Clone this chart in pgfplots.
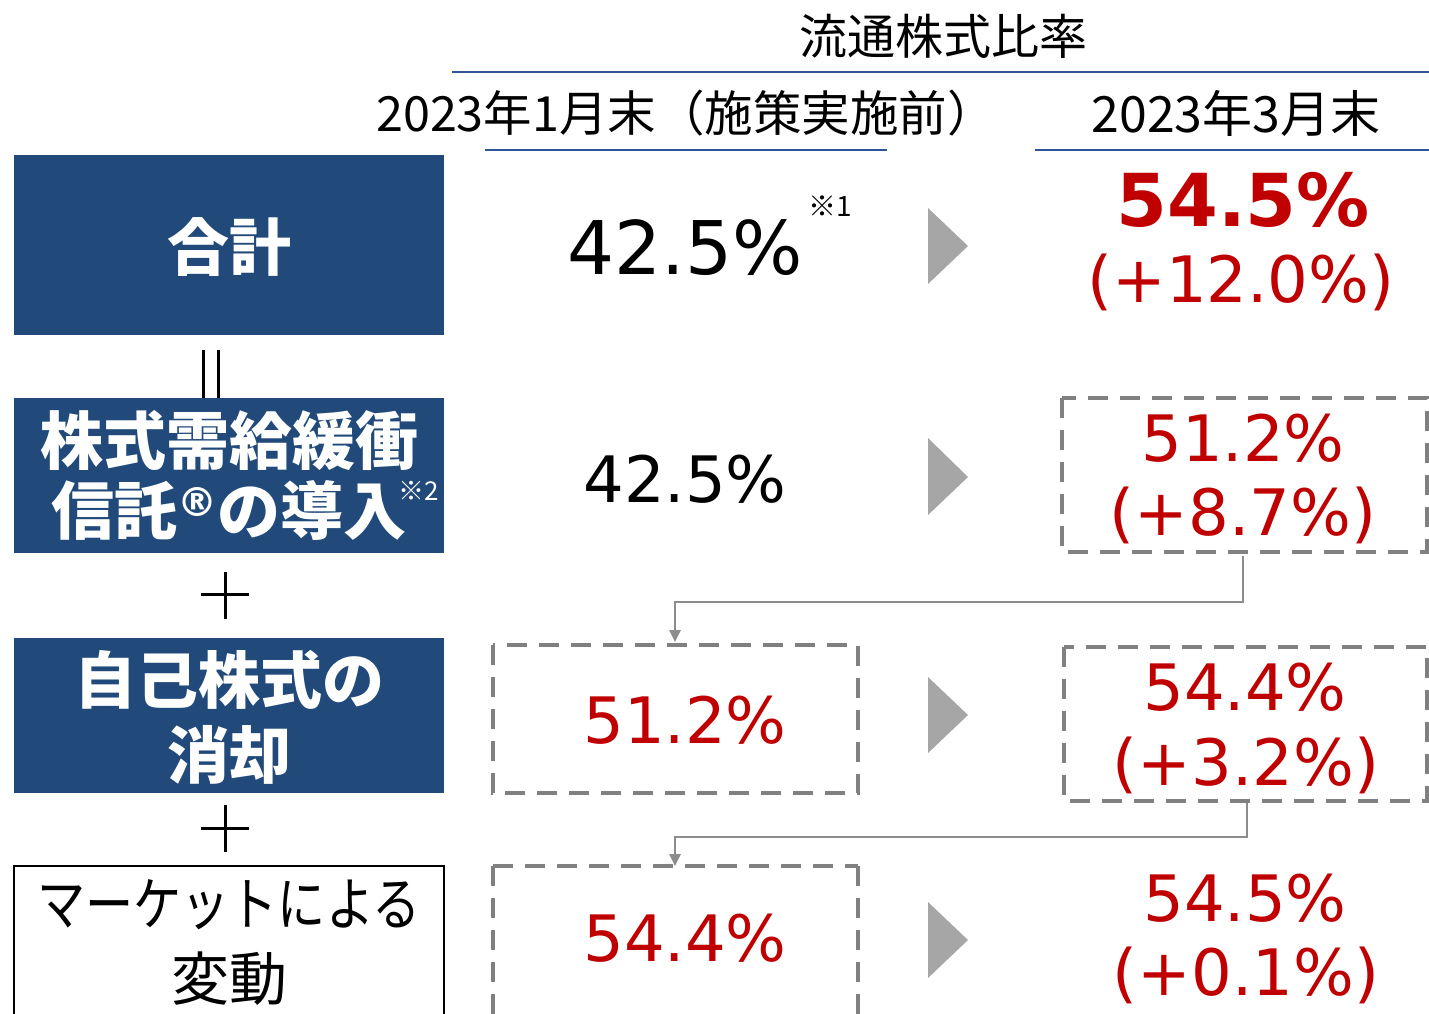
\documentclass[border=0pt]{standalone}
\usepackage{fontspec}
\setmainfont{Noto Sans CJK JP}
\newfontfamily\numfont{DejaVu Sans}
\usepackage{pgfplots}
\pgfplotsset{compat=1.18}
\usetikzlibrary{arrows.meta}

\definecolor{boxblue}{RGB}{33,74,123}
\definecolor{lineblue}{RGB}{47,85,151}
\definecolor{redtxt}{RGB}{192,0,0}
\definecolor{dashgray}{RGB}{128,128,128}
\definecolor{arrowgray}{RGB}{166,166,166}
\definecolor{connector}{RGB}{140,140,140}

% positions in pixels of the reference, y counted downwards
\pgfplotstableread{
x    y    v
685  248  42.5
}\totalbefore
\pgfplotstableread{
x    y    v
685  479  42.5
}\before
\pgfplotstableread{
x    y    v
1243 438  51.2
685  720  51.2
1245 687  54.4
685  938  54.4
1245 898  54.5
}\redvals
\pgfplotstableread{
x    y    v
1243 200  54.5
}\total
\pgfplotstableread{
x    y    v
1241 282  12.0
1243 515  8.7
1246 765  3.2
1246 975  0.1
}\changes

\begin{document}
\begin{tikzpicture}
\begin{axis}[
    width=1429pt, height=1013pt, scale only axis,
    xmin=0, xmax=1429, ymin=0, ymax=1013, y dir=reverse,
    hide axis, clip=false,
    /pgf/number format/assume math mode=true,
    every node near coord/.append style={anchor=center, inner sep=0pt},
]
% header
\node[font=\fontsize{48}{50}\selectfont] at (943,36) {流通株式比率};
\draw[lineblue, line width=2.5pt] (452,72) -- (1429,72);
\node[font=\fontsize{48.5}{50}\selectfont] at (686,113) {2023年1月末（施策実施前）};
\node[font=\fontsize{50}{50}\selectfont] at (1236,113) {2023年3月末};
\draw[lineblue, line width=2.5pt] (485,150) -- (887,150);
\draw[lineblue, line width=2.5pt] (1035,150) -- (1429,150);

% left column boxes
\fill[boxblue] (14,155) rectangle (444,335);
\node[text=white, font=\bfseries\fontsize{62}{64}\selectfont] at (229,247) {合計};
\draw[line width=3pt] (203,350) -- (203,398);
\draw[line width=3pt] (218,350) -- (218,398);
\fill[boxblue] (14,398) rectangle (444,553);
\node[text=white, align=center, font=\bfseries\fontsize{63}{70}\selectfont] at (229,475)
  {株式需給緩衝\\信託{\numfont\fontsize{40}{40}\selectfont\raisebox{18pt}{®}}の導入%
   \makebox[0pt][l]{\hspace{-8pt}\raisebox{34pt}{\mdseries\fontsize{26}{26}\selectfont ※2}}};
\draw[line width=3pt] (225,572) -- (225,619);
\draw[line width=3pt] (201,594) -- (249,594);
\fill[boxblue] (14,638) rectangle (444,793);
\node[text=white, align=center, font=\bfseries\fontsize{62}{75}\selectfont] at (229,717)
  {自己株式の\\消却};
\draw[line width=3pt] (225,805) -- (225,852);
\draw[line width=3pt] (201,828) -- (249,828);
\draw[line width=2pt, fill=white] (14,866) rectangle (444,1040);
\node[align=center, font=\fontsize{58}{75}\selectfont] at (229,942)
  {\scalebox{0.83}[1]{マーケットによる}\\変動};

% footnote mark
\node[font=\fontsize{28}{28}\selectfont] at (830,206) {※1};

% dashed boxes
\begin{scope}[dashgray, line width=4.5pt, dash pattern=on 20pt off 12pt]
\draw (1062,398) rectangle (1427,552);
\draw (493,645) rectangle (858,793);
\draw (1064,647) rectangle (1427,801);
\draw (493,866) -- (858,866);
\draw (493,866) -- (493,1030);
\draw (858,866) -- (858,1030);
\end{scope}

% connectors
\draw[connector, line width=2.5pt, -{Triangle[width=11pt,length=12pt]}]
  (1243,556) -- (1243,602) -- (675,602) -- (675,642);
\draw[connector, line width=2.5pt, -{Triangle[width=11pt,length=12pt]}]
  (1247,803) -- (1247,837) -- (675,837) -- (675,866);

% grey arrow heads
\fill[arrowgray] (928,208) -- (968,246) -- (928,284) -- cycle;
\fill[arrowgray] (928,438) -- (968,477) -- (928,515) -- cycle;
\fill[arrowgray] (928,677) -- (968,715) -- (928,753) -- cycle;
\fill[arrowgray] (928,902) -- (968,940) -- (928,978) -- cycle;

% values
\addplot[draw=none, no markers, point meta=explicit,
  nodes near coords={\pgfmathprintnumber[fixed,fixed zerofill,precision=1]{\pgfplotspointmeta}\%},
  every node near coord/.append style={text=black, font=\numfont\fontsize{74}{74}\selectfont}]
  table[x=x, y=y, meta=v] {\totalbefore};
\addplot[draw=none, no markers, point meta=explicit,
  nodes near coords={\pgfmathprintnumber[fixed,fixed zerofill,precision=1]{\pgfplotspointmeta}\%},
  every node near coord/.append style={text=black, font=\numfont\fontsize{64}{64}\selectfont}]
  table[x=x, y=y, meta=v] {\before};
\addplot[draw=none, no markers, point meta=explicit,
  nodes near coords={\pgfmathprintnumber[fixed,fixed zerofill,precision=1]{\pgfplotspointmeta}\%},
  every node near coord/.append style={text=redtxt, font=\numfont\fontsize{64}{64}\selectfont}]
  table[x=x, y=y, meta=v] {\redvals};
\addplot[draw=none, no markers, point meta=explicit,
  nodes near coords={\pgfmathprintnumber[fixed,fixed zerofill,precision=1]{\pgfplotspointmeta}\%},
  every node near coord/.append style={text=redtxt, font=\numfont\bfseries\fontsize{73}{73}\selectfont}]
  table[x=x, y=y, meta=v] {\total};
\addplot[draw=none, no markers, point meta=explicit,
  nodes near coords={(+\pgfmathprintnumber[fixed,fixed zerofill,precision=1]{\pgfplotspointmeta}\%)},
  every node near coord/.append style={text=redtxt, font=\numfont\fontsize{64}{64}\selectfont}]
  table[x=x, y=y, meta=v] {\changes};
\end{axis}
\pgfresetboundingbox
\useasboundingbox (current axis.south west) rectangle (current axis.north east);
\end{tikzpicture}
\end{document}
